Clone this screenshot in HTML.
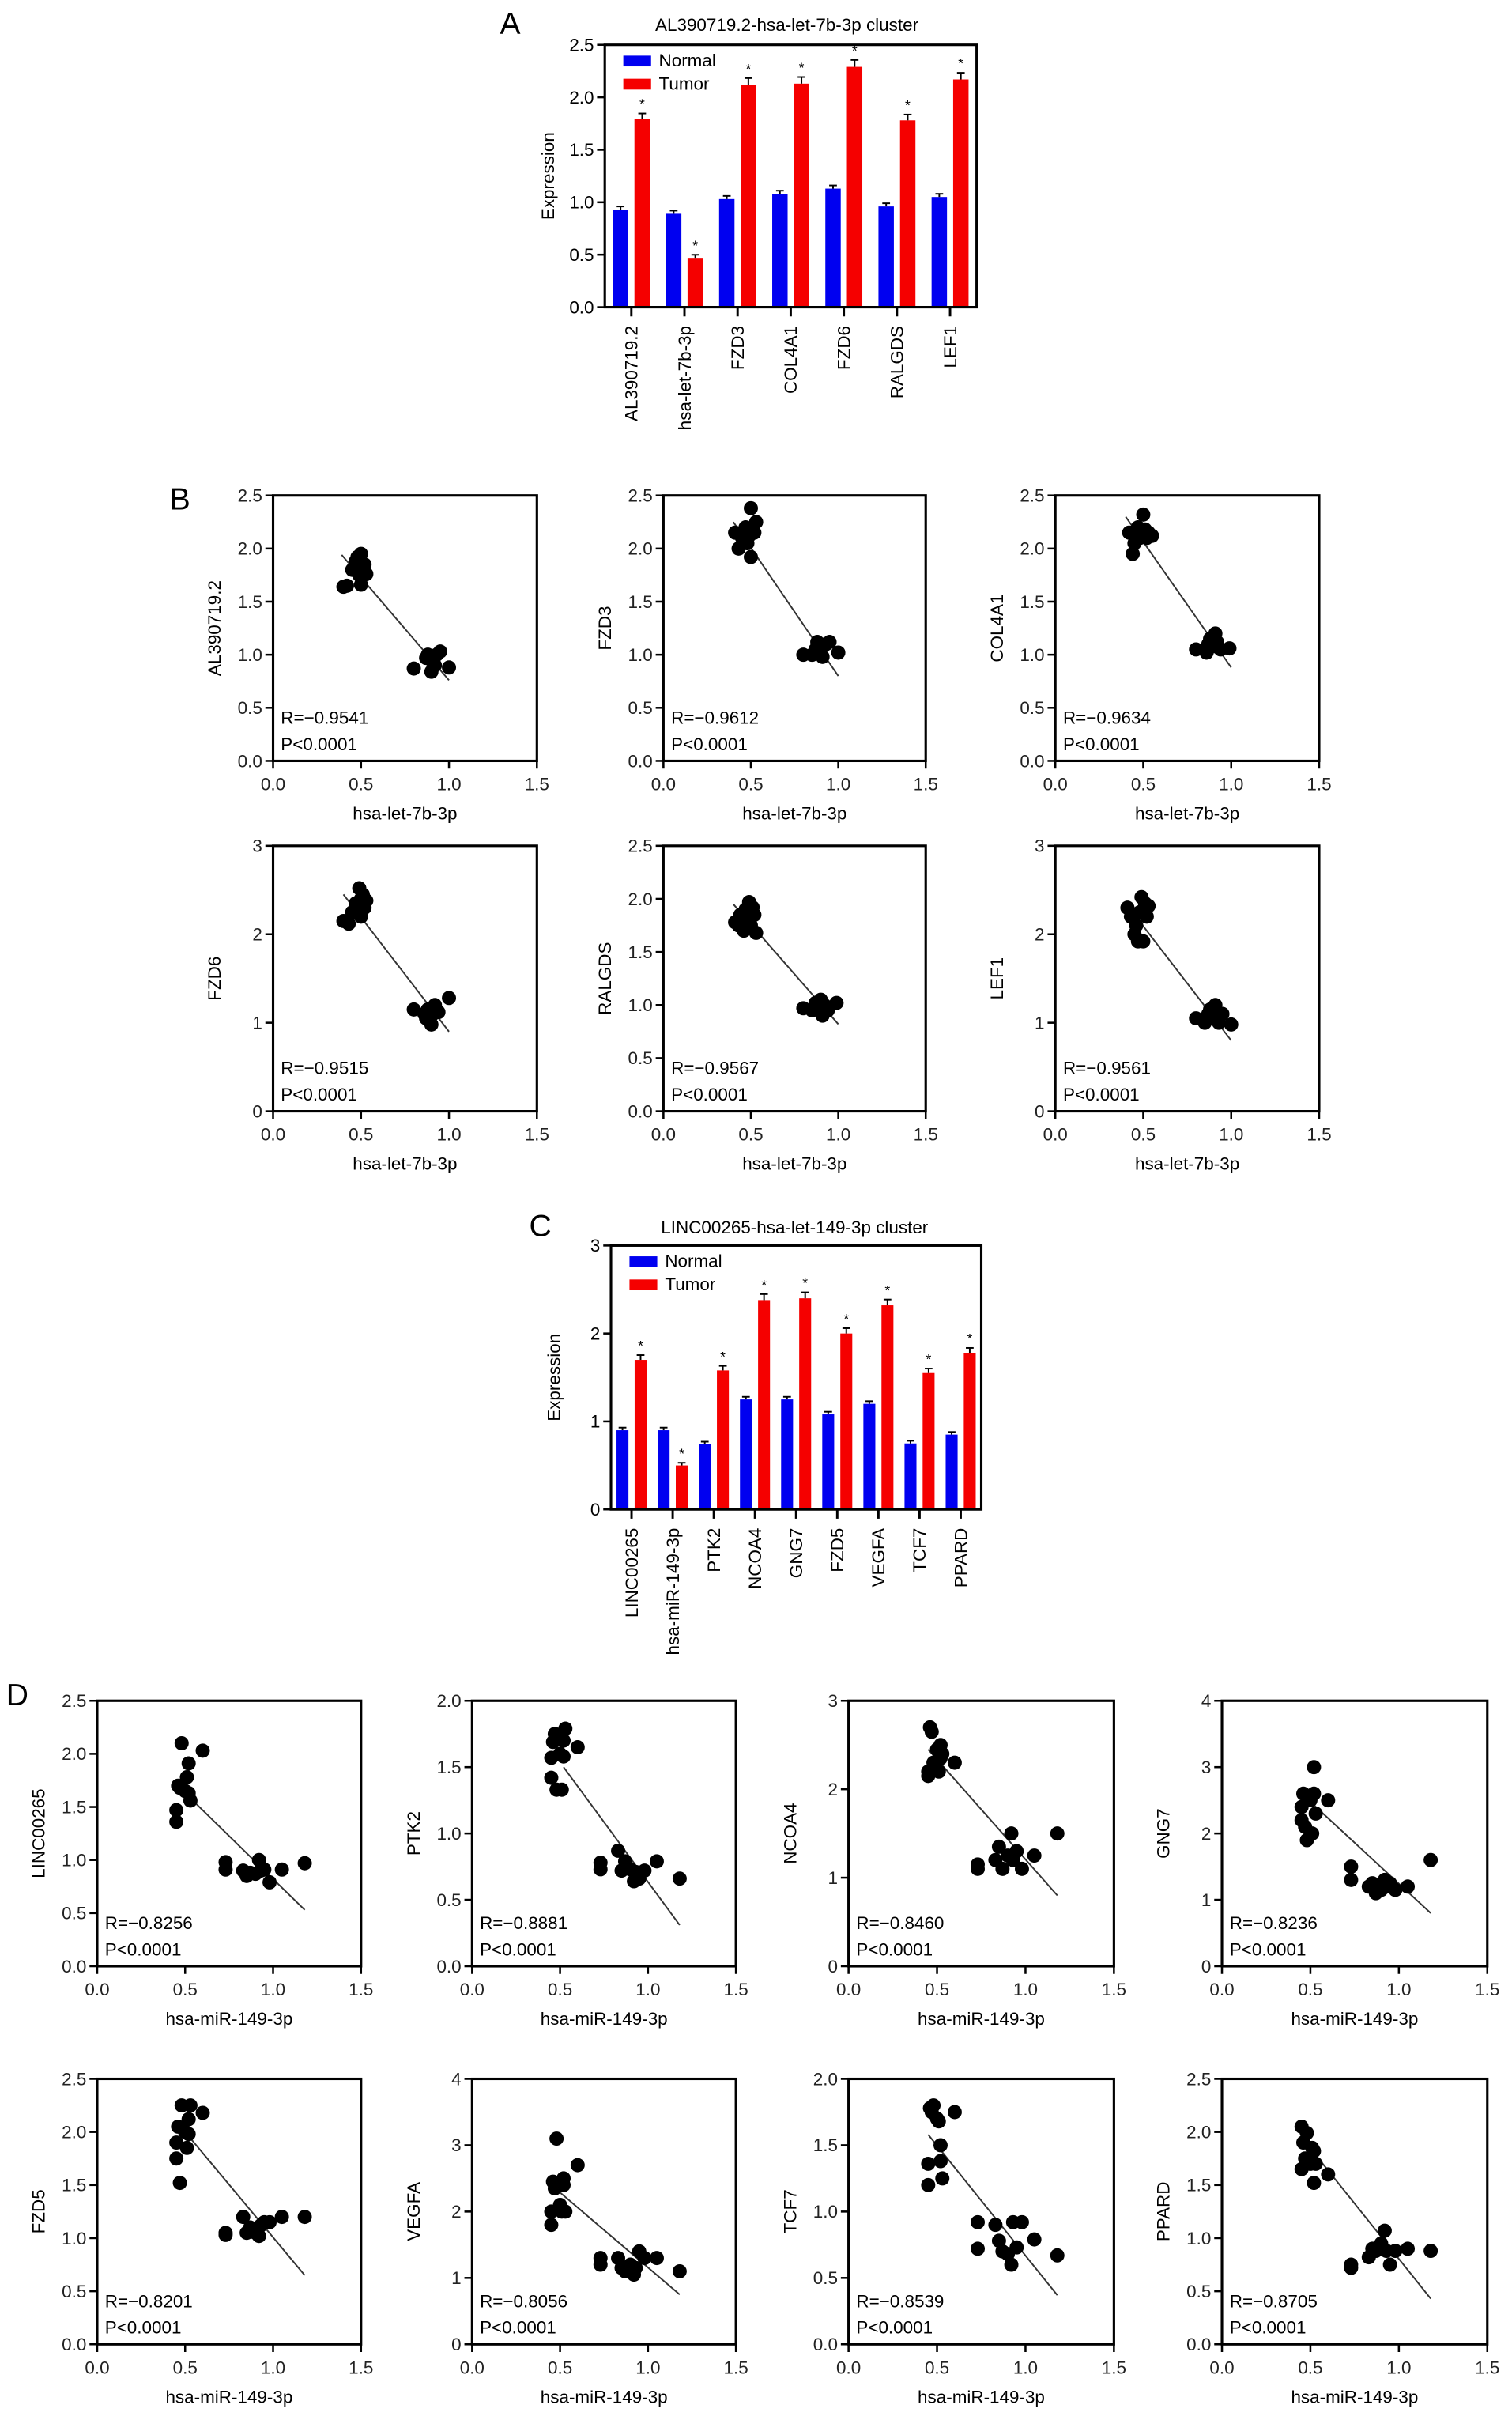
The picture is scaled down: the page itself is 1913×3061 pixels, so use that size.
<!DOCTYPE html>
<html><head><meta charset="utf-8"><style>
html,body{margin:0;padding:0;background:#fff;}
svg{display:block;font-family:"Liberation Sans",Arial,sans-serif;}
</style></head><body>
<svg id="fig" width="1913" height="3061" viewBox="0 0 980 1568" xmlns="http://www.w3.org/2000/svg">
<rect x="0" y="0" width="980" height="1568" fill="#fff"/>
</svg>
<script>
// ---- Panel A data ----
const catsA = ["AL390719.2","hsa-let-7b-3p","FZD3","COL4A1","FZD6","RALGDS","LEF1"];
const normalA = [0.93,0.89,1.03,1.08,1.13,0.96,1.05];
const tumorA = [1.79,0.47,2.12,2.13,2.29,1.78,2.17];
const ticksA = [0,0.5,1.0,1.5,2.0,2.5];
// ---- Panel C data ----
const catsC = ["LINC00265","hsa-miR-149-3p","PTK2","NCOA4","GNG7","FZD5","VEGFA","TCF7","PPARD"];
const normalC = [0.9,0.9,0.74,1.25,1.25,1.08,1.2,0.75,0.85];
const tumorC = [1.7,0.5,1.58,2.38,2.4,2.0,2.32,1.55,1.78];
const ticksC = [0,1,2,3];
// ---- Panel B scatter data ----
const bNames = ["AL390719.2","FZD3","COL4A1","FZD6","RALGDS","LEF1"];
const bR = ["R=\u22120.9541","R=\u22120.9612","R=\u22120.9634","R=\u22120.9515","R=\u22120.9567","R=\u22120.9561"];
const bYmax = [2.5,2.5,2.5,3,2.5,3];
const bX1 = [0.4,0.42,0.45,0.47,0.48,0.49,0.5,0.5,0.51,0.52,0.53,0.8,0.87,0.88,0.9,0.9,0.92,0.93,0.95,1.0];
const bY1 = [1.64,1.65,1.8,1.88,1.92,1.75,1.95,1.66,1.8,1.85,1.76,0.87,0.97,1.0,0.95,0.84,0.9,1.0,1.03,0.88];
const bX2 = [0.41,0.43,0.45,0.47,0.48,0.49,0.5,0.5,0.51,0.52,0.53,0.8,0.85,0.87,0.88,0.9,0.91,0.93,0.95,1.0];
const bY2 = [2.15,2.0,2.1,2.2,2.05,2.12,2.38,1.92,2.2,2.15,2.25,1.0,1.0,1.05,1.12,1.08,0.98,1.1,1.12,1.02];
const bX3 = [0.42,0.44,0.45,0.47,0.48,0.49,0.5,0.51,0.52,0.53,0.55,0.8,0.86,0.87,0.88,0.9,0.91,0.92,0.94,0.99];
const bY3 = [2.15,1.95,2.05,2.2,2.1,2.12,2.32,2.18,2.1,2.15,2.12,1.05,1.02,1.1,1.15,1.08,1.2,1.12,1.05,1.06];
const bX4 = [0.4,0.43,0.45,0.47,0.48,0.49,0.5,0.5,0.51,0.52,0.53,0.8,0.86,0.87,0.88,0.9,0.91,0.92,0.94,1.0];
const bY4 = [2.15,2.12,2.25,2.35,2.3,2.52,2.2,2.4,2.45,2.3,2.38,1.15,1.1,1.05,1.15,0.98,1.1,1.2,1.12,1.28];
const bX5 = [0.41,0.43,0.44,0.46,0.47,0.48,0.49,0.5,0.51,0.52,0.53,0.8,0.85,0.87,0.88,0.9,0.91,0.92,0.94,0.99];
const bY5 = [1.78,1.75,1.85,1.7,1.9,1.8,1.97,1.75,1.92,1.85,1.68,0.97,0.95,1.02,0.98,1.05,0.9,1.0,0.95,1.02];
const bX6 = [0.41,0.43,0.45,0.46,0.47,0.48,0.49,0.5,0.51,0.52,0.53,0.8,0.85,0.87,0.88,0.9,0.91,0.93,0.95,1.0];
const bY6 = [2.3,2.2,2.0,2.1,1.92,2.25,2.42,1.92,2.35,2.2,2.32,1.05,1.0,1.1,1.15,1.05,1.2,1.0,1.1,0.98];
const bLineX0 = [0.39,0.4,0.4,0.4,0.4,0.4];
const bLineY0 = [1.94,2.25,2.3,2.45,1.95,2.35];
const bLineX1 = [1.0,1.0,1.0,1.0,1.0,1.0];
const bLineY1 = [0.76,0.8,0.88,0.9,0.82,0.8];
// ---- Panel D scatter data ----
const dNames = ["LINC00265","PTK2","NCOA4","GNG7","FZD5","VEGFA","TCF7","PPARD"];
const dR = ["R=\u22120.8256","R=\u22120.8881","R=\u22120.8460","R=\u22120.8236","R=\u22120.8201","R=\u22120.8056","R=\u22120.8539","R=\u22120.8705"];
const dYmax = [2.5,2.0,3,4,2.5,4,2.0,2.5];
const dYstep = [0.5,0.5,1,1,0.5,1,0.5,0.5];
const dX = [0.45,0.45,0.46,0.47,0.48,0.5,0.51,0.52,0.52,0.53,0.6,0.73,0.73,0.83,0.85,0.87,0.9,0.92,0.93,0.95,0.98,1.05,1.18];
const dY1 = [1.47,1.36,1.7,1.68,2.1,1.65,1.78,1.91,1.63,1.56,2.03,0.98,0.91,0.9,0.85,0.88,0.87,1.0,0.9,0.91,0.79,0.91,0.97];
const dY2 = [1.57,1.42,1.69,1.75,1.33,1.6,1.33,1.7,1.58,1.79,1.65,0.73,0.78,0.87,0.72,0.79,0.73,0.64,0.71,0.66,0.72,0.79,0.66];
const dY3 = [2.2,2.15,2.7,2.65,2.3,2.45,2.2,2.5,2.35,2.4,2.3,1.15,1.1,1.2,1.35,1.1,1.25,1.5,1.2,1.3,1.1,1.25,1.5];
const dY4 = [2.4,2.2,2.6,2.1,1.9,2.5,2.0,3.0,2.6,2.3,2.5,1.5,1.3,1.2,1.25,1.1,1.15,1.3,1.2,1.25,1.15,1.2,1.6];
const dY5 = [1.9,1.75,2.05,1.52,2.25,2.0,1.85,2.12,1.98,2.25,2.18,1.03,1.05,1.2,1.05,1.1,1.05,1.02,1.12,1.15,1.15,1.2,1.2];
const dY6 = [2.0,1.8,2.45,2.35,3.1,2.1,2.0,2.5,2.4,2.0,2.7,1.3,1.2,1.3,1.15,1.1,1.2,1.05,1.15,1.4,1.3,1.3,1.1];
const dY7 = [1.36,1.2,1.78,1.75,1.8,1.7,1.68,1.5,1.38,1.25,1.75,0.92,0.72,0.9,0.78,0.7,0.68,0.6,0.92,0.73,0.92,0.79,0.67];
const dY8 = [2.05,1.65,1.9,1.75,1.99,1.7,1.85,1.52,1.82,1.7,1.6,0.75,0.72,0.82,0.9,0.88,0.95,1.07,0.88,0.75,0.88,0.9,0.88];
const dLineX0 = [0.55,0.52,0.45,0.45,0.5,0.45,0.45,0.45];
const dLineY0 = [1.55,1.5,2.45,2.6,2.0,2.4,1.58,1.95];
const dLineX1 = [1.18,1.18,1.18,1.18,1.18,1.18,1.18,1.18];
const dLineY1 = [0.53,0.31,0.8,0.8,0.65,0.75,0.37,0.43];
const xTicks = [0,0.5,1.0,1.5];

const NS="http://www.w3.org/2000/svg";
const svg=document.getElementById('fig');
const FS=11.5;
function mk(tag,attrs,parent,txt){const e=document.createElementNS(NS,tag);for(const k in attrs)e.setAttribute(k,attrs[k]);if(txt!==undefined)e.textContent=txt;(parent||svg).appendChild(e);return e;}
function fmt(v,dec){return dec?v.toFixed(1):String(v);}

function barChart(name,x0,y0,x1,y1,cats,nv,tv,ticks,ymax,dec,title,tx,ty){
  const g=mk('g',{});
  
  
  const ys=v=>y1-(v/ymax)*(y1-y0);
  const n=cats.length, w=(x1-x0)/n;
  const t=mk('text',{x:tx,y:ty,'font-size':FS,'text-anchor':'middle','font-weight':500},g,title);
  
  
  cats.forEach((c,i)=>{
    const cx=x0+w*(i+0.5);
    const bw=w*0.29;
    const b1=mk('rect',{x:cx-bw-2,y:ys(nv[i]),width:bw,height:y1-ys(nv[i]),fill:'#0000f0'},g);
    
    
    const b2=mk('rect',{x:cx+2,y:ys(tv[i]),width:bw,height:y1-ys(tv[i]),fill:'#f50000'},g);
    
    
    const e=tv[i]*0.02+0.02;
    mk('line',{x1:cx+2+bw/2,x2:cx+2+bw/2,y1:ys(tv[i]),y2:ys(tv[i]+e),stroke:'#000','stroke-width':1},g);
    mk('line',{x1:cx+2+bw/2-2.5,x2:cx+2+bw/2+2.5,y1:ys(tv[i]+e),y2:ys(tv[i]+e),stroke:'#000','stroke-width':1},g);
    mk('line',{x1:cx-2-bw/2,x2:cx-2-bw/2,y1:ys(nv[i]),y2:ys(nv[i]+0.03),stroke:'#000','stroke-width':1},g);
    mk('line',{x1:cx-2-bw/2-2.5,x2:cx-2-bw/2+2.5,y1:ys(nv[i]+0.03),y2:ys(nv[i]+0.03),stroke:'#000','stroke-width':1},g);
    const s=mk('text',{x:cx+2+bw/2,y:ys(tv[i]+e)-3,'font-size':9,'text-anchor':'middle'},g,'*');
    
    
    mk('line',{x1:cx,x2:cx,y1:y1,y2:y1+6,stroke:'#000','stroke-width':1.5},g);
    const l=mk('text',{x:0,y:0,'font-size':FS,'text-anchor':'end','font-weight':500,transform:`translate(${cx+4},${y1+12}) rotate(-90)`},g,c);
    
    
  });
  mk('rect',{x:x0,y:y0,width:x1-x0,height:y1-y0,fill:'none',stroke:'#000','stroke-width':1.6},g);
  ticks.forEach(v=>{
    mk('line',{x1:x0-5,x2:x0,y1:ys(v),y2:ys(v),stroke:'#000','stroke-width':1.3},g);
    const tl=mk('text',{x:x0-7,y:ys(v)+4,'font-size':FS,'text-anchor':'end','font-weight':500},g,fmt(v,dec));
    
    
  });
  const yt=mk('text',{x:0,y:0,'font-size':FS,'text-anchor':'middle','font-weight':500,transform:`translate(${x0-33},${(y0+y1)/2}) rotate(-90)`},g,'Expression');
  
  
  const lg=mk('g',{},g);
  
  
  mk('rect',{x:x0+12,y:y0+7,width:18,height:7,fill:'#0000f0'},lg);
  mk('text',{x:x0+35,y:y0+14,'font-size':FS,'font-weight':500},lg,'Normal');
  mk('rect',{x:x0+12,y:y0+22,width:18,height:7,fill:'#f50000'},lg);
  mk('text',{x:x0+35,y:y0+29,'font-size':FS,'font-weight':500},lg,'Tumor');
}

function scatter(name,x0,y0,x1,y1,xs,yv,ymax,ystep,dec,ylab,xlab,rtxt,lx0,ly0,lx1,ly1){
  const g=mk('g',{});
  
  
  const sx=v=>x0+(v/1.5)*(x1-x0);
  const sy=v=>y1-(v/ymax)*(y1-y0);
  mk('rect',{x:x0,y:y0,width:x1-x0,height:y1-y0,fill:'none',stroke:'#000','stroke-width':1.6},g);
  for(let v=0;v<=ymax+1e-9;v+=ystep){
    mk('line',{x1:x0-5,x2:x0,y1:sy(v),y2:sy(v),stroke:'#000','stroke-width':1.3},g);
    const tl=mk('text',{x:x0-7,y:sy(v)+4,'font-size':FS,'text-anchor':'end','fill':'#222','font-weight':500},g,dec?v.toFixed(1):String(Math.round(v)));
    
    
  }
  xTicks.forEach(v=>{
    mk('line',{x1:sx(v),x2:sx(v),y1:y1,y2:y1+5,stroke:'#000','stroke-width':1.3},g);
    const tl=mk('text',{x:sx(v),y:y1+19,'font-size':FS,'text-anchor':'middle','fill':'#222','font-weight':500},g,v.toFixed(1));
    
    
  });
  const xt=mk('text',{x:(x0+x1)/2,y:y1+38,'font-size':FS,'text-anchor':'middle','font-weight':500},g,xlab);
  
  
  const yt=mk('text',{x:0,y:0,'font-size':FS,'text-anchor':'middle','font-weight':500,transform:`translate(${x0-34},${(y0+y1)/2}) rotate(-90)`},g,ylab);
  
  
  const fl=mk('line',{x1:sx(lx0),y1:sy(ly0),x2:sx(lx1),y2:sy(ly1),stroke:'#333','stroke-width':1},g);
  
  
  xs.forEach((xv,i)=>{
    const c=mk('circle',{cx:sx(xv),cy:sy(yv[i]),r:4.6,fill:'#000'},g);
    
    
  });
  const r=mk('text',{x:x0+5,y:y1-24,'font-size':FS,'font-weight':500},g,rtxt);
  
  
  const p=mk('text',{x:x0+5,y:y1-7,'font-size':FS,'font-weight':500},g,'P<0.0001');
  
  
}

function letter(ch,x,y){
  const t=mk('text',{x:x,y:y,'font-size':20},svg,ch);
  
  
}

letter('A',324,22);
barChart('panel-a-bar-chart',392,29,633,199,catsA,normalA,tumorA,ticksA,2.5,true,'AL390719.2-hsa-let-7b-3p cluster',510,20);

letter('B',110,330);
const bXs=[bX1,bX2,bX3,bX4,bX5,bX6];
const bYs=[bY1,bY2,bY3,bY4,bY5,bY6];
const bCol=[[177,348],[430,600],[684,855]];
const bRow=[[321,493],[548,720]];
for(let i=0;i<6;i++){
  const c=bCol[i%3], r=bRow[Math.floor(i/3)];
  scatter('panel-b-scatter-'+bNames[i].toLowerCase(),c[0],r[0],c[1],r[1],bXs[i],bYs[i],bYmax[i],bYmax[i]===3?1:0.5,bYmax[i]!==3,bNames[i],'hsa-let-7b-3p',bR[i],bLineX0[i],bLineY0[i],bLineX1[i],bLineY1[i]);
}

letter('C',343,801);
barChart('panel-c-bar-chart',396,807,636,978,catsC,normalC,tumorC,ticksC,3,false,'LINC00265-hsa-let-149-3p cluster',515,799);

letter('D',4,1105);
const dYs=[dY1,dY2,dY3,dY4,dY5,dY6,dY7,dY8];
const dCol=[[63,234],[306,477],[550,722],[792,964]];
const dRow=[[1102,1274],[1347,1519]];
for(let i=0;i<8;i++){
  const c=dCol[i%4], r=dRow[Math.floor(i/4)];
  scatter('panel-d-scatter-'+dNames[i].toLowerCase(),c[0],r[0],c[1],r[1],dX,dYs[i],dYmax[i],dYstep[i],dYstep[i]===0.5,dNames[i],'hsa-miR-149-3p',dR[i],dLineX0[i],dLineY0[i],dLineX1[i],dLineY1[i]);
}
</script>
</body></html>
